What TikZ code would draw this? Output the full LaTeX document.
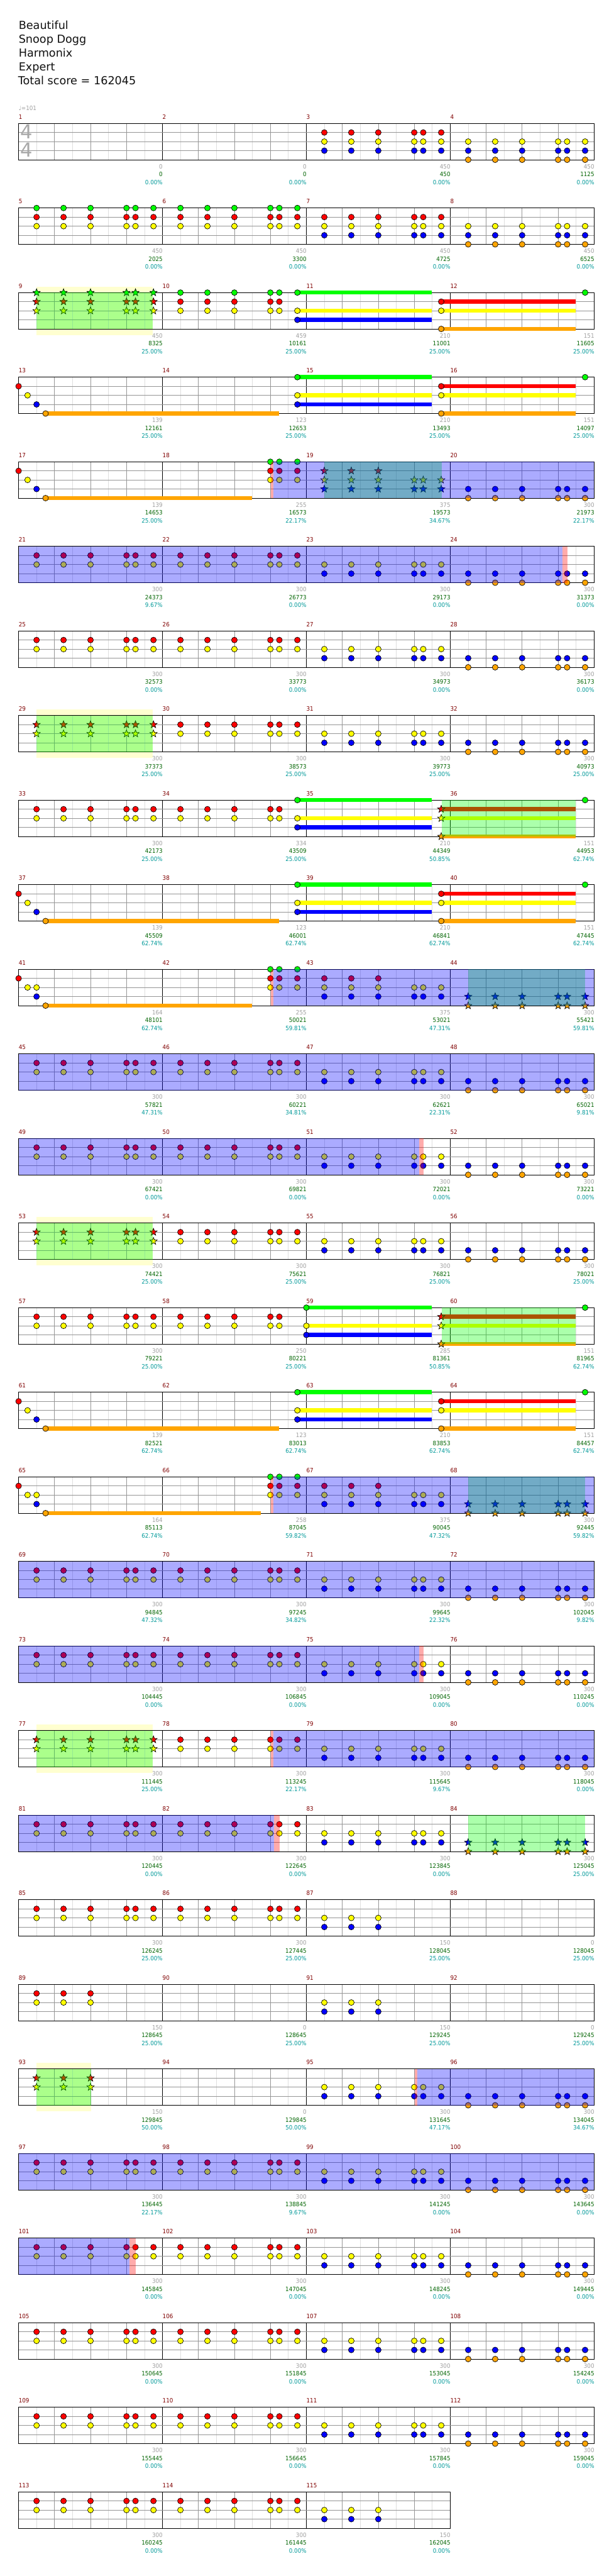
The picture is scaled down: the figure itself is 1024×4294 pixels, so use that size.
\documentclass[tikz,border=0pt]{standalone}
\usepackage{fontspec}
\setmainfont{DejaVu Sans}
\newfontfamily\smallfont[FakeStretch=0.92]{DejaVu Sans}
\definecolor{lane0}{RGB}{0,255,0}
\definecolor{lane1}{RGB}{255,0,0}
\definecolor{lane2}{RGB}{255,255,0}
\definecolor{lane3}{RGB}{0,0,255}
\definecolor{lane4}{RGB}{255,165,0}
\definecolor{mnum}{RGB}{128,0,0}
\definecolor{gnum}{RGB}{160,160,160}
\definecolor{snum}{RGB}{0,100,0}
\definecolor{pnum}{RGB}{0,153,153}
\definecolor{gridlight}{RGB}{222,222,222}
\definecolor{griddark}{RGB}{150,150,150}
\definecolor{odblue}{RGB}{0,0,255}
\definecolor{spgreen}{RGB}{0,255,0}
\definecolor{paleyel}{RGB}{255,255,208}
\definecolor{tsgray}{RGB}{168,168,168}
\definecolor{titlecol}{RGB}{17,17,17}

\def\PA{30,75,120,180,195,225}
\def\PT{30,75,120}
\def\PF{30,75,120,180,195}
\def\PB{180,195,225}

\newcommand\staffrow[3]{%
 \pgfmathsetmacro\rT{205.7+141*#1}%
 \pgfmathsetmacro\rB{\rT+60.6}%
 \pgfmathsetmacro\rR{31+240*#2}%
 \pgfmathtruncatemacro\rN{8*#2-1}%
 \foreach \k in {1,...,\rN}{%
   \pgfmathsetmacro\xx{31+30*\k}%
   \pgfmathtruncatemacro\modk{mod(\k,8)}%
   \ifnum\modk=0 \def\gc{black}\else\ifodd\k \def\gc{gridlight}\else\def\gc{griddark}\fi\fi
   \draw[draw=\gc,line width=0.8pt] (\xx,\rT) -- (\xx,\rB);
 }%
 \foreach \La in {1,2,3}{\draw[griddark,line width=0.8pt] (31,{\rT+15.15*\La}) -- (\rR,{\rT+15.15*\La});}%
 \draw[black,line width=1.1pt] (31,\rT) rectangle (\rR,\rB);
 \foreach \i in {1,...,#2}{%
   \pgfmathtruncatemacro\mn{#3+\i-1}%
   \node[mnumst] (mn\mn) at ({31+240*(\i-1)},\rT-7.5) {\mn};
 }%
}

\newcommand\nts[4]{%
 \pgfmathsetmacro\rT{205.7+141*#1}%
 \edef\plist{#3}\edef\llist{#4}%
 \foreach \La in \llist {\foreach \Po in \plist {%
   \filldraw[notest,fill=lane\La] ({31+240*#2+\Po},{\rT+15.15*\La}) circle[radius=4.8pt];
 }}}

\newcommand\strs[4]{%
 \pgfmathsetmacro\rT{205.7+141*#1}%
 \edef\plist{#3}\edef\llist{#4}%
 \foreach \La in \llist {\foreach \Po in \plist {%
   \pgfmathsetmacro\cx{31+240*#2+\Po}\pgfmathsetmacro\cy{\rT+15.15*\La}%
   \filldraw[notest,fill=lane\La] (\cx,\cy) +(-90:6.4) -- +(-54:2.7) -- +(-18:6.4) -- +(18:2.7) -- +(54:6.4) -- +(90:2.7) -- +(126:6.4) -- +(162:2.7) -- +(198:6.4) -- +(234:2.7) -- cycle;
 }}}

\newcommand\susbar[5]{%
 \pgfmathsetmacro\rT{205.7+141*#1}\edef\llist{#5}%
 \foreach \La in \llist {\fill[lane\La] ({31+240*#2+#3},{\rT+15.15*\La-3.4}) rectangle (#4,{\rT+15.15*\La+3.4});}}

\newcommand\odbox[3]{\pgfmathsetmacro\rT{205.7+141*#1}\fill[odblue,fill opacity=0.33] (#2,\rT) rectangle (#3,\rT+60.6);}
\newcommand\pinkbox[3]{\pgfmathsetmacro\rT{205.7+141*#1}\fill[red,fill opacity=0.33] (#2,\rT) rectangle (#3,\rT+60.6);}
\newcommand\spbox[3]{\pgfmathsetmacro\rT{205.7+141*#1}\fill[spgreen,fill opacity=0.33] (#2,\rT) rectangle (#3,\rT+60.6);}
\newcommand\yelbox[3]{\pgfmathsetmacro\rT{205.7+141*#1}\fill[paleyel] (#2,\rT-10) rectangle (#3,\rT+71);}

\newcommand\mlab[5]{%
 \pgfmathsetmacro\rT{205.7+141*#1}\pgfmathsetmacro\xe{31.5+240*(#2+1)}%
 \node[smalltxt,text=gnum] (g#1-#2) at (\xe,\rT+75.5) {#3};%
 \node[smalltxt,text=snum] (s#1-#2) at (\xe,\rT+88.7) {#4};%
 \node[smalltxt,text=pnum] (p#1-#2) at (\xe,\rT+101.7) {#5\%};}

\newcommand\std[1]{\nts{#1}{0}{\PA}{1,2}\nts{#1}{1}{\PA}{1,2}\nts{#1}{2}{\PA}{2,3}\nts{#1}{3}{\PA}{3,4}}
\newcommand\sustrip[1]{%
 \susbar{#1}{1}{225}{720}{0,2,3}\susbar{#1}{2}{225}{960}{1,2,4}%
 \nts{#1}{1}{225}{0,2,3}\nts{#1}{2}{225}{1,2,4}\nts{#1}{3}{225}{0}}
\newcommand\intro[2]{%
 \susbar{#1}{0}{45}{#2}{4}%
 \nts{#1}{0}{0}{1}\nts{#1}{0}{15}{2}\nts{#1}{0}{30}{3}\nts{#1}{0}{45}{4}}
\newcommand\introb[2]{%
 \susbar{#1}{0}{45}{#2}{4}%
 \nts{#1}{0}{0}{1}\nts{#1}{0}{15,30}{2}\nts{#1}{0}{30}{3}\nts{#1}{0}{45}{4}}

\begin{document}
\begin{tikzpicture}[x=1pt,y=-1pt,
  mnumst/.style={font=\smallfont\fontsize{10}{12}\selectfont,text=mnum,anchor=base west,inner sep=0pt},
  smalltxt/.style={font=\smallfont\fontsize{10}{12}\selectfont,anchor=base east,inner sep=0pt},
  titlest/.style={font=\fontsize{18.5}{22}\selectfont,text=titlecol,anchor=base west,inner sep=0pt},
  tsig/.style={font=\fontsize{32}{36}\selectfont,text=tsgray,anchor=base,inner sep=0pt},
  notest/.style={draw=black,line width=0.7pt}]
\fill[white] (0,0) rectangle (1024,4294);
\useasboundingbox (0,0) rectangle (1024,4294);

\node[titlest] (t1) at (31,49) {Beautiful};
\node[titlest] (t2) at (31,72) {Snoop Dogg};
\node[titlest] (t3) at (31,95) {Harmonix};
\node[titlest] (t4) at (31,118) {Expert};
\node[titlest] (t5) at (30,141) {Total score = 162045};
\node[smalltxt,text=gnum,anchor=base west] (tempo) at (31,184.5) {♩=101};

% row 0
\staffrow{0}{4}{1}
\node[tsig] (ts1) at (44.5,231) {4};
\node[tsig] (ts2) at (44.5,261.5) {4};
\nts{0}{2}{\PA}{1,2,3}
\nts{0}{3}{\PA}{2,3,4}
\mlab{0}{0}{0}{0}{0.00}\mlab{0}{1}{0}{0}{0.00}\mlab{0}{2}{450}{450}{0.00}\mlab{0}{3}{450}{1125}{0.00}

% row 1
\staffrow{1}{4}{5}
\nts{1}{0}{\PA}{0,1,2}\nts{1}{1}{\PA}{0,1,2}\nts{1}{2}{\PA}{1,2,3}\nts{1}{3}{\PA}{2,3,4}
\mlab{1}{0}{450}{2025}{0.00}\mlab{1}{1}{450}{3300}{0.00}\mlab{1}{2}{450}{4725}{0.00}\mlab{1}{3}{450}{6525}{0.00}

% row 2
\yelbox{2}{61}{255}
\staffrow{2}{4}{9}
\strs{2}{0}{\PA}{0,1,2}
\nts{2}{1}{\PF}{0,1,2}
\sustrip{2}
\spbox{2}{61}{255}
\mlab{2}{0}{450}{8325}{25.00}\mlab{2}{1}{459}{10161}{25.00}\mlab{2}{2}{210}{11001}{25.00}\mlab{2}{3}{151}{11605}{25.00}

% row 3
\staffrow{3}{4}{13}
\intro{3}{465}
\sustrip{3}
\mlab{3}{0}{139}{12161}{25.00}\mlab{3}{1}{123}{12653}{25.00}\mlab{3}{2}{210}{13493}{25.00}\mlab{3}{3}{151}{14097}{25.00}

% row 4
\staffrow{4}{4}{17}
\intro{4}{420}
\nts{4}{1}{\PB}{0,1,2}
\strs{4}{2}{\PT}{1}\strs{4}{2}{\PA}{2,3}
\nts{4}{3}{\PA}{3,4}
\spbox{4}{541}{737}
\pinkbox{4}{452}{456}\odbox{4}{456}{991}
\mlab{4}{0}{139}{14653}{25.00}\mlab{4}{1}{255}{16573}{22.17}\mlab{4}{2}{375}{19573}{34.67}\mlab{4}{3}{300}{21973}{22.17}

% row 5
\staffrow{5}{4}{21}
\std{5}
\odbox{5}{31}{938}\pinkbox{5}{938}{947}
\mlab{5}{0}{300}{24373}{9.67}\mlab{5}{1}{300}{26773}{0.00}\mlab{5}{2}{300}{29173}{0.00}\mlab{5}{3}{300}{31373}{0.00}

% row 6
\staffrow{6}{4}{25}
\std{6}
\mlab{6}{0}{300}{32573}{0.00}\mlab{6}{1}{300}{33773}{0.00}\mlab{6}{2}{300}{34973}{0.00}\mlab{6}{3}{300}{36173}{0.00}

% row 7
\yelbox{7}{61}{255}
\staffrow{7}{4}{29}
\strs{7}{0}{\PA}{1,2}\nts{7}{1}{\PA}{1,2}\nts{7}{2}{\PA}{2,3}\nts{7}{3}{\PA}{3,4}
\spbox{7}{61}{255}
\mlab{7}{0}{300}{37373}{25.00}\mlab{7}{1}{300}{38573}{25.00}\mlab{7}{2}{300}{39773}{25.00}\mlab{7}{3}{300}{40973}{25.00}

% row 8
\staffrow{8}{4}{33}
\nts{8}{0}{\PA}{1,2}\nts{8}{1}{\PF}{1,2}
\susbar{8}{1}{225}{720}{0,2,3}\susbar{8}{2}{225}{960}{1,2,4}
\nts{8}{1}{225}{0,2,3}\strs{8}{2}{225}{1,2,4}\nts{8}{3}{225}{0}
\spbox{8}{737}{960}
\mlab{8}{0}{300}{42173}{25.00}\mlab{8}{1}{334}{43509}{25.00}\mlab{8}{2}{210}{44349}{50.85}\mlab{8}{3}{151}{44953}{62.74}

% row 9
\staffrow{9}{4}{37}
\intro{9}{465}
\sustrip{9}
\mlab{9}{0}{139}{45509}{62.74}\mlab{9}{1}{123}{46001}{62.74}\mlab{9}{2}{210}{46841}{62.74}\mlab{9}{3}{151}{47445}{62.74}

% row 10
\staffrow{10}{4}{41}
\introb{10}{420}
\nts{10}{1}{\PB}{0,1,2}
\nts{10}{2}{\PT}{1}\nts{10}{2}{\PA}{2,3}
\strs{10}{3}{\PA}{3,4}
\spbox{10}{781}{976}
\pinkbox{10}{452}{456}\odbox{10}{456}{991}
\mlab{10}{0}{164}{48101}{62.74}\mlab{10}{1}{255}{50021}{59.81}\mlab{10}{2}{375}{53021}{47.31}\mlab{10}{3}{300}{55421}{59.81}

% row 11
\staffrow{11}{4}{45}
\std{11}
\odbox{11}{31}{991}
\mlab{11}{0}{300}{57821}{47.31}\mlab{11}{1}{300}{60221}{34.81}\mlab{11}{2}{300}{62621}{22.31}\mlab{11}{3}{300}{65021}{9.81}

% row 12
\staffrow{12}{4}{49}
\std{12}
\odbox{12}{31}{699}\pinkbox{12}{699}{707}
\mlab{12}{0}{300}{67421}{0.00}\mlab{12}{1}{300}{69821}{0.00}\mlab{12}{2}{300}{72021}{0.00}\mlab{12}{3}{300}{73221}{0.00}

% row 13
\yelbox{13}{61}{255}
\staffrow{13}{4}{53}
\strs{13}{0}{\PA}{1,2}\nts{13}{1}{\PA}{1,2}\nts{13}{2}{\PA}{2,3}\nts{13}{3}{\PA}{3,4}
\spbox{13}{61}{255}
\mlab{13}{0}{300}{74421}{25.00}\mlab{13}{1}{300}{75621}{25.00}\mlab{13}{2}{300}{76821}{25.00}\mlab{13}{3}{300}{78021}{25.00}

% row 14
\staffrow{14}{4}{57}
\nts{14}{0}{\PA}{1,2}\nts{14}{1}{\PF}{1,2}
\susbar{14}{2}{0}{720}{0,2,3}\susbar{14}{2}{225}{960}{1,2,4}
\nts{14}{2}{0}{0,2,3}\strs{14}{2}{225}{1,2,4}\nts{14}{3}{225}{0}
\spbox{14}{737}{960}
\mlab{14}{0}{300}{79221}{25.00}\mlab{14}{1}{250}{80221}{25.00}\mlab{14}{2}{285}{81361}{50.85}\mlab{14}{3}{151}{81965}{62.74}

% row 15
\staffrow{15}{4}{61}
\intro{15}{465}
\sustrip{15}
\mlab{15}{0}{139}{82521}{62.74}\mlab{15}{1}{123}{83013}{62.74}\mlab{15}{2}{210}{83853}{62.74}\mlab{15}{3}{151}{84457}{62.74}

% row 16
\staffrow{16}{4}{65}
\introb{16}{435}
\nts{16}{1}{\PB}{0,1,2}
\nts{16}{2}{\PT}{1}\nts{16}{2}{\PA}{2,3}
\strs{16}{3}{\PA}{3,4}
\spbox{16}{781}{976}
\pinkbox{16}{452}{456}\odbox{16}{456}{991}
\mlab{16}{0}{164}{85113}{62.74}\mlab{16}{1}{258}{87045}{59.82}\mlab{16}{2}{375}{90045}{47.32}\mlab{16}{3}{300}{92445}{59.82}

% row 17
\staffrow{17}{4}{69}
\std{17}
\odbox{17}{31}{991}
\mlab{17}{0}{300}{94845}{47.32}\mlab{17}{1}{300}{97245}{34.82}\mlab{17}{2}{300}{99645}{22.32}\mlab{17}{3}{300}{102045}{9.82}

% row 18
\staffrow{18}{4}{73}
\std{18}
\odbox{18}{31}{699}\pinkbox{18}{699}{707}
\mlab{18}{0}{300}{104445}{0.00}\mlab{18}{1}{300}{106845}{0.00}\mlab{18}{2}{300}{109045}{0.00}\mlab{18}{3}{300}{110245}{0.00}

% row 19
\yelbox{19}{61}{255}
\staffrow{19}{4}{77}
\strs{19}{0}{\PA}{1,2}\nts{19}{1}{\PA}{1,2}\nts{19}{2}{\PA}{2,3}\nts{19}{3}{\PA}{3,4}
\spbox{19}{61}{255}
\pinkbox{19}{452}{456}\odbox{19}{456}{991}
\mlab{19}{0}{300}{111445}{25.00}\mlab{19}{1}{300}{113245}{22.17}\mlab{19}{2}{300}{115645}{9.67}\mlab{19}{3}{300}{118045}{0.00}

% row 20
\staffrow{20}{4}{81}
\nts{20}{0}{\PA}{1,2}\nts{20}{1}{\PA}{1,2}\nts{20}{2}{\PA}{2,3}\strs{20}{3}{\PA}{3,4}
\spbox{20}{781}{976}
\odbox{20}{31}{457}\pinkbox{20}{457}{466}
\mlab{20}{0}{300}{120445}{0.00}\mlab{20}{1}{300}{122645}{0.00}\mlab{20}{2}{300}{123845}{0.00}\mlab{20}{3}{300}{125045}{25.00}

% row 21
\staffrow{21}{4}{85}
\nts{21}{0}{\PA}{1,2}\nts{21}{1}{\PA}{1,2}\nts{21}{2}{\PT}{2,3}
\mlab{21}{0}{300}{126245}{25.00}\mlab{21}{1}{300}{127445}{25.00}\mlab{21}{2}{150}{128045}{25.00}\mlab{21}{3}{0}{128045}{25.00}

% row 22
\staffrow{22}{4}{89}
\nts{22}{0}{\PT}{1,2}\nts{22}{2}{\PT}{2,3}
\mlab{22}{0}{150}{128645}{25.00}\mlab{22}{1}{0}{128645}{25.00}\mlab{22}{2}{150}{129245}{25.00}\mlab{22}{3}{0}{129245}{25.00}

% row 23
\yelbox{23}{61}{152}
\staffrow{23}{4}{93}
\strs{23}{0}{\PT}{1,2}\nts{23}{2}{\PA}{2,3}\nts{23}{3}{\PA}{3,4}
\spbox{23}{61}{152}
\pinkbox{23}{692}{696}\odbox{23}{696}{991}
\mlab{23}{0}{150}{129845}{50.00}\mlab{23}{1}{0}{129845}{50.00}\mlab{23}{2}{300}{131645}{47.17}\mlab{23}{3}{300}{134045}{34.67}

% row 24
\staffrow{24}{4}{97}
\std{24}
\odbox{24}{31}{991}
\mlab{24}{0}{300}{136445}{22.17}\mlab{24}{1}{300}{138845}{9.67}\mlab{24}{2}{300}{141245}{0.00}\mlab{24}{3}{300}{143645}{0.00}

% row 25
\staffrow{25}{4}{101}
\std{25}
\odbox{25}{31}{216}\pinkbox{25}{216}{226}
\mlab{25}{0}{300}{145845}{0.00}\mlab{25}{1}{300}{147045}{0.00}\mlab{25}{2}{300}{148245}{0.00}\mlab{25}{3}{300}{149445}{0.00}

% row 26
\staffrow{26}{4}{105}
\std{26}
\mlab{26}{0}{300}{150645}{0.00}\mlab{26}{1}{300}{151845}{0.00}\mlab{26}{2}{300}{153045}{0.00}\mlab{26}{3}{300}{154245}{0.00}

% row 27
\staffrow{27}{4}{109}
\std{27}
\mlab{27}{0}{300}{155445}{0.00}\mlab{27}{1}{300}{156645}{0.00}\mlab{27}{2}{300}{157845}{0.00}\mlab{27}{3}{300}{159045}{0.00}

% row 28
\staffrow{28}{3}{113}
\nts{28}{0}{\PA}{1,2}\nts{28}{1}{\PA}{1,2}\nts{28}{2}{\PT}{2,3}
\mlab{28}{0}{300}{160245}{0.00}\mlab{28}{1}{300}{161445}{0.00}\mlab{28}{2}{150}{162045}{0.00}
\end{tikzpicture}
\end{document}
